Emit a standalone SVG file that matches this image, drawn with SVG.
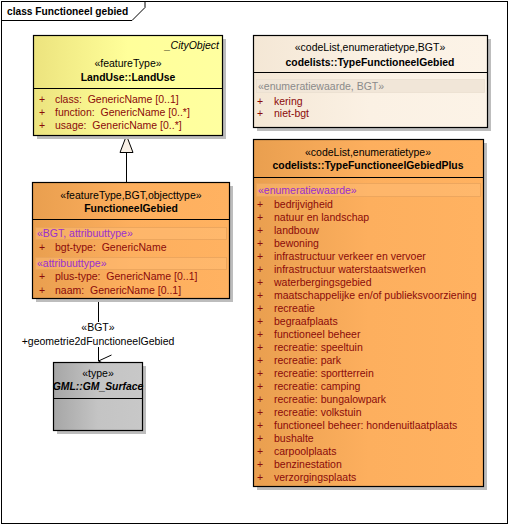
<svg xmlns="http://www.w3.org/2000/svg" width="509" height="525" viewBox="0 0 509 525">
<defs>
<linearGradient id="gY" x1="0" y1="0" x2="1" y2="0"><stop offset="0" stop-color="#ECE37E"/><stop offset="0.5" stop-color="#FFFF9A"/><stop offset="1" stop-color="#FFFFA0"/></linearGradient>
<linearGradient id="gO" x1="0" y1="0" x2="1" y2="0"><stop offset="0" stop-color="#E99F4F"/><stop offset="0.5" stop-color="#FDAF5E"/><stop offset="1" stop-color="#FFB261"/></linearGradient>
<linearGradient id="gB" x1="0" y1="0" x2="1" y2="0"><stop offset="0" stop-color="#F4E7D5"/><stop offset="0.5" stop-color="#FBF1E4"/><stop offset="1" stop-color="#FCF3E7"/></linearGradient>
<linearGradient id="gG" x1="0" y1="0" x2="1" y2="0"><stop offset="0" stop-color="#A6A6A6"/><stop offset="0.5" stop-color="#C4C4C4"/><stop offset="1" stop-color="#C8C8C8"/></linearGradient>
<marker id="openArrow" viewBox="0 0 14 14" refX="7" refY="13" markerWidth="14" markerHeight="14" markerUnits="userSpaceOnUse" orient="auto-start-reverse">
<path d="M1,0 L7,13 L13,0" fill="none" stroke="#000" stroke-width="1"/>
</marker>
</defs>
<style>
text{font-family:"Liberation Sans",Arial,sans-serif;font-size:10.5px;fill:#000;white-space:pre}
.b{font-weight:bold;font-size:10.4px}
.c{text-anchor:middle}
.a{fill:#8B0A0A}
.p{fill:#9A2FCF}
.g{fill:#8A8A8A}
.box{stroke:#000;stroke-width:1.2}
.sh{fill:#BDBDBD}
.ln{stroke:#000;stroke-width:1;fill:none}
</style>
<rect x="0" y="0" width="509" height="525" fill="#fff"/>
<g id="frame">
<rect x="1.5" y="1.5" width="506" height="522" fill="none" stroke="#000" stroke-width="1"/>
<path d="M1.5,20.5 H132 L145,7.5 V1.5" fill="none" stroke="#000" stroke-width="1"/>
<text x="7" y="15" class="b" style="font-size:10.2px">class Functioneel gebied</text>
</g>
<g id="connectors">
<line x1="126.5" y1="152" x2="126.5" y2="182" class="ln"/>
<path d="M126.5,135.5 L120,152.5 L133,152.5 Z" fill="#F8F0E6" stroke="#000" stroke-width="1"/>
<line x1="98.5" y1="298" x2="98.5" y2="322" class="ln"/>
<line x1="98.5" y1="347" x2="98.5" y2="361" class="ln" marker-end="url(#openArrow)"/>
<text x="98" y="330.5" class="c">«BGT»</text>
<text x="98" y="344.5" class="c">+geometrie2dFunctioneelGebied</text>
</g>
<g id="LandUse">
<rect x="37" y="39" width="189" height="100" class="sh"/>
<rect x="33.5" y="35.5" width="189" height="100" fill="url(#gY)" class="box"/>
<line x1="33.5" y1="88.5" x2="222.5" y2="88.5" class="ln" stroke-width="1.2"/>
<text x="219" y="48.5" style="font-style:italic;text-anchor:end">_CityObject</text>
<text x="128" y="66.5" class="c">«featureType»</text>
<text x="128" y="80.5" class="c b">LandUse::LandUse</text>
<text x="39" y="102.5" class="a">+</text><text x="55" y="102.5" class="a">class:  GenericName [0..1]</text>
<text x="39" y="115.5" class="a">+</text><text x="55" y="115.5" class="a">function:  GenericName [0..*]</text>
<text x="39" y="128.5" class="a">+</text><text x="55" y="128.5" class="a">usage:  GenericName [0..*]</text>
</g>
<g id="FunctioneelGebied">
<rect x="36" y="186" width="197" height="116" class="sh"/>
<rect x="32.5" y="182.5" width="197" height="116" fill="url(#gO)" class="box"/>
<line x1="32.5" y1="219.5" x2="229.5" y2="219.5" class="ln" stroke-width="1.2"/>
<text x="131" y="198.5" class="c">«featureType,BGT,objecttype»</text>
<text x="131" y="211.5" class="c b">FunctioneelGebied</text>
<rect x="35.5" y="227.5" width="191" height="12" fill="#FFBE7A" fill-opacity="0.45" stroke="#E9A45C" stroke-width="0.8"/>
<text x="37" y="236.5" class="p">«BGT, attribuuttype»</text>
<text x="39" y="250.5" class="a">+</text><text x="55" y="250.5" class="a">bgt-type:  GenericName</text>
<rect x="35.5" y="257.5" width="191" height="12" fill="#FFBE7A" fill-opacity="0.45" stroke="#E9A45C" stroke-width="0.8"/>
<text x="37" y="266.5" class="p">«attribuuttype»</text>
<text x="39" y="279.5" class="a">+</text><text x="55" y="279.5" class="a">plus-type:  GenericName [0..1]</text>
<text x="39" y="293.5" class="a">+</text><text x="55" y="293.5" class="a">naam:  GenericName [0..1]</text>
</g>
<g id="GM_Surface">
<rect x="57" y="366" width="89" height="68" class="sh"/>
<rect x="53.5" y="362.5" width="89" height="68" fill="url(#gG)" class="box"/>
<line x1="53.5" y1="398.5" x2="142.5" y2="398.5" class="ln" stroke-width="1.2"/>
<text x="98" y="376.5" class="c">«type»</text>
<text x="98" y="389.5" class="c b" style="font-style:italic">GML::GM_Surface</text>
</g>
<g id="TypeFunctioneelGebied">
<rect x="257" y="39" width="234" height="92" class="sh"/>
<rect x="253.5" y="35.5" width="234" height="92" fill="url(#gB)" class="box"/>
<line x1="253.5" y1="72.5" x2="487.5" y2="72.5" class="ln" stroke-width="1.2"/>
<text x="370" y="50.5" class="c">«codeList,enumeratietype,BGT»</text>
<text x="370" y="65.5" class="c b">codelists::TypeFunctioneelGebied</text>
<rect x="256.5" y="79.5" width="228" height="13" fill="#F1E6D8" stroke="#EADFD0" stroke-width="0.8"/>
<text x="258" y="89.5" class="g">«enumeratiewaarde, BGT»</text>
<text x="257" y="104.5" class="a">+</text><text x="274" y="104.5" class="a">kering</text>
<text x="257" y="116.5" class="a">+</text><text x="274" y="116.5" class="a">niet-bgt</text>
</g>
<g id="TypeFunctioneelGebiedPlus">
<rect x="257" y="143" width="230" height="347" class="sh"/>
<rect x="253.5" y="139.5" width="230" height="347" fill="url(#gO)" class="box"/>
<line x1="253.5" y1="177.5" x2="483.5" y2="177.5" class="ln" stroke-width="1.2"/>
<text x="368" y="155.5" class="c">«codeList,enumeratietype»</text>
<text x="368" y="168.5" class="c b">codelists::TypeFunctioneelGebiedPlus</text>
<rect x="256.5" y="183.5" width="224" height="13" fill="#FFBE7A" fill-opacity="0.45" stroke="#E9A45C" stroke-width="0.8"/>
<text x="258" y="193.5" class="p">«enumeratiewaarde»</text>
<g>
<text x="257" y="207.5" class="a">+</text><text x="274" y="207.5" class="a">bedrijvigheid</text>
<text x="257" y="220.5" class="a">+</text><text x="274" y="220.5" class="a">natuur en landschap</text>
<text x="257" y="233.5" class="a">+</text><text x="274" y="233.5" class="a">landbouw</text>
<text x="257" y="246.5" class="a">+</text><text x="274" y="246.5" class="a">bewoning</text>
<text x="257" y="259.5" class="a">+</text><text x="274" y="259.5" class="a">infrastructuur verkeer en vervoer</text>
<text x="257" y="272.5" class="a">+</text><text x="274" y="272.5" class="a">infrastructuur waterstaatswerken</text>
<text x="257" y="285.5" class="a">+</text><text x="274" y="285.5" class="a">waterbergingsgebied</text>
<text x="257" y="298.5" class="a">+</text><text x="274" y="298.5" class="a">maatschappelijke en/of publieksvoorziening</text>
<text x="257" y="311.5" class="a">+</text><text x="274" y="311.5" class="a">recreatie</text>
<text x="257" y="324.5" class="a">+</text><text x="274" y="324.5" class="a">begraafplaats</text>
<text x="257" y="337.5" class="a">+</text><text x="274" y="337.5" class="a">functioneel beheer</text>
<text x="257" y="350.5" class="a">+</text><text x="274" y="350.5" class="a">recreatie: speeltuin</text>
<text x="257" y="363.5" class="a">+</text><text x="274" y="363.5" class="a">recreatie: park</text>
<text x="257" y="376.5" class="a">+</text><text x="274" y="376.5" class="a">recreatie: sportterrein</text>
<text x="257" y="389.5" class="a">+</text><text x="274" y="389.5" class="a">recreatie: camping</text>
<text x="257" y="402.5" class="a">+</text><text x="274" y="402.5" class="a">recreatie: bungalowpark</text>
<text x="257" y="415.5" class="a">+</text><text x="274" y="415.5" class="a">recreatie: volkstuin</text>
<text x="257" y="428.5" class="a">+</text><text x="274" y="428.5" class="a">functioneel beheer: hondenuitlaatplaats</text>
<text x="257" y="441.5" class="a">+</text><text x="274" y="441.5" class="a">bushalte</text>
<text x="257" y="454.5" class="a">+</text><text x="274" y="454.5" class="a">carpoolplaats</text>
<text x="257" y="467.5" class="a">+</text><text x="274" y="467.5" class="a">benzinestation</text>
<text x="257" y="480.5" class="a">+</text><text x="274" y="480.5" class="a">verzorgingsplaats</text>
</g>
</g>
</svg>
